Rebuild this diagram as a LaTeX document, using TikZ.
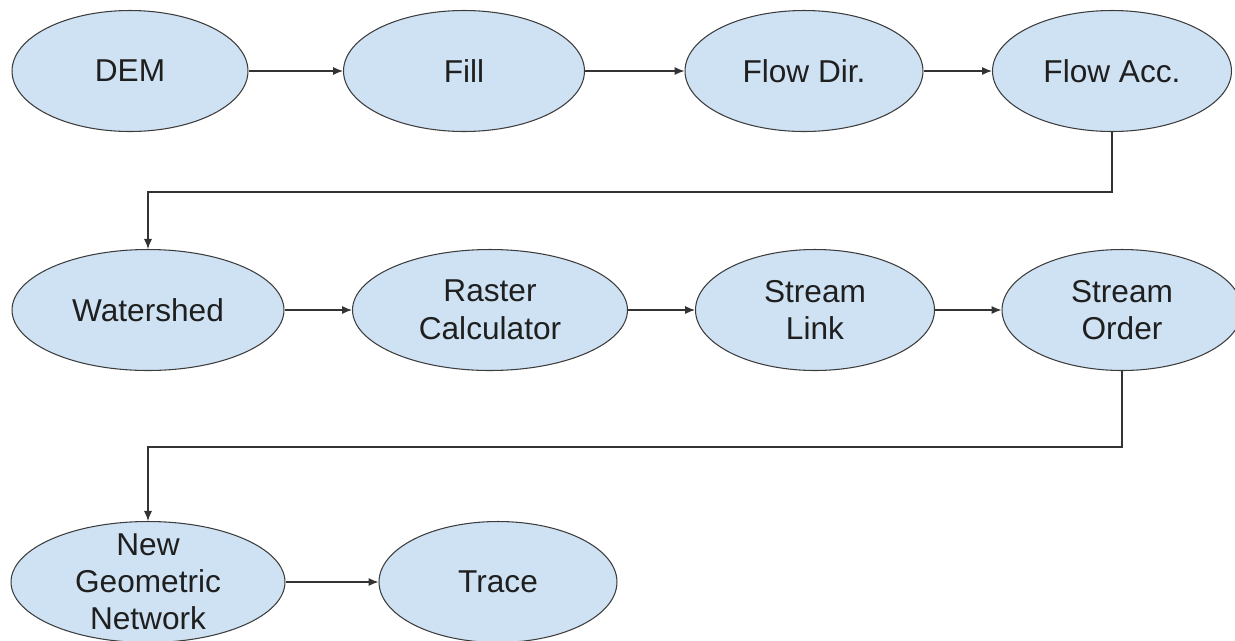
\documentclass[tikz,border=0pt]{standalone}
\usepackage{fontspec}
\setmainfont{Liberation Sans}
\usetikzlibrary{shapes.geometric,arrows.meta}
\definecolor{cellblue}{HTML}{CFE2F3}
\definecolor{rim}{HTML}{3C3C3C}

\begin{document}
\begin{tikzpicture}[x=0.02cm,y=-0.02cm]

 \tikzset{
    stage/.style={ellipse, draw=rim, fill=cellblue, line width=0.6pt,
      inner sep=0pt, minimum height=2.42cm, align=center, text=black!88,
      font=\fontsize{18}{21.5}\selectfont},
    link/.style={-{Latex[length=2mm,width=1.6mm]}, line width=0.6pt, draw=black!80},
  }

  \useasboundingbox (0,0) rectangle (1235,640);

  % first row
  \node[stage, minimum width=4.72cm] (dem) at (130,71) {DEM};
  \node[stage, minimum width=4.82cm] (fill) at (464,71) {Fill};
  \node[stage, minimum width=4.76cm] (dir) at (804,71) {Flow Dir.};
  \node[stage, minimum width=4.78cm] (acc) at (1112,71) {Flow Acc.};

  % second row
  \node[stage, minimum width=5.44cm] (shed) at (148,310) {Watershed};
  \node[stage, minimum width=5.5cm] (calc) at (490,310) {Raster\\Calculator};
  \node[stage, minimum width=4.78cm] (slink) at (815,310) {Stream\\Link};
  \node[stage, minimum width=4.8cm] (sorder) at (1122,310) {Stream\\Order};

  % third row
  \node[stage, minimum width=5.48cm,
    label={[name=ngntext, align=center, text=black!88,
      font=\fontsize{18}{21}\selectfont]center:New\\Geometric\\Network}]
    (ngn) at (148,582) {};
  \node[stage, minimum width=4.76cm] (trace) at (498,582) {Trace};

  \draw[link] (dem) -- (fill);
  \draw[link] (fill) -- (dir);
  \draw[link] (dir) -- (acc);
  \draw[link] (acc.south) -- ++(0,60) -| (shed.north);

  \draw[link] (shed) -- (calc);
  \draw[link] (calc) -- (slink);
  \draw[link] (slink) -- (sorder);
  \draw[link] (sorder.south) -- ++(0,76) -| (ngn.north);

  \draw[link] (ngn) -- (trace);
\end{tikzpicture}
\end{document}
